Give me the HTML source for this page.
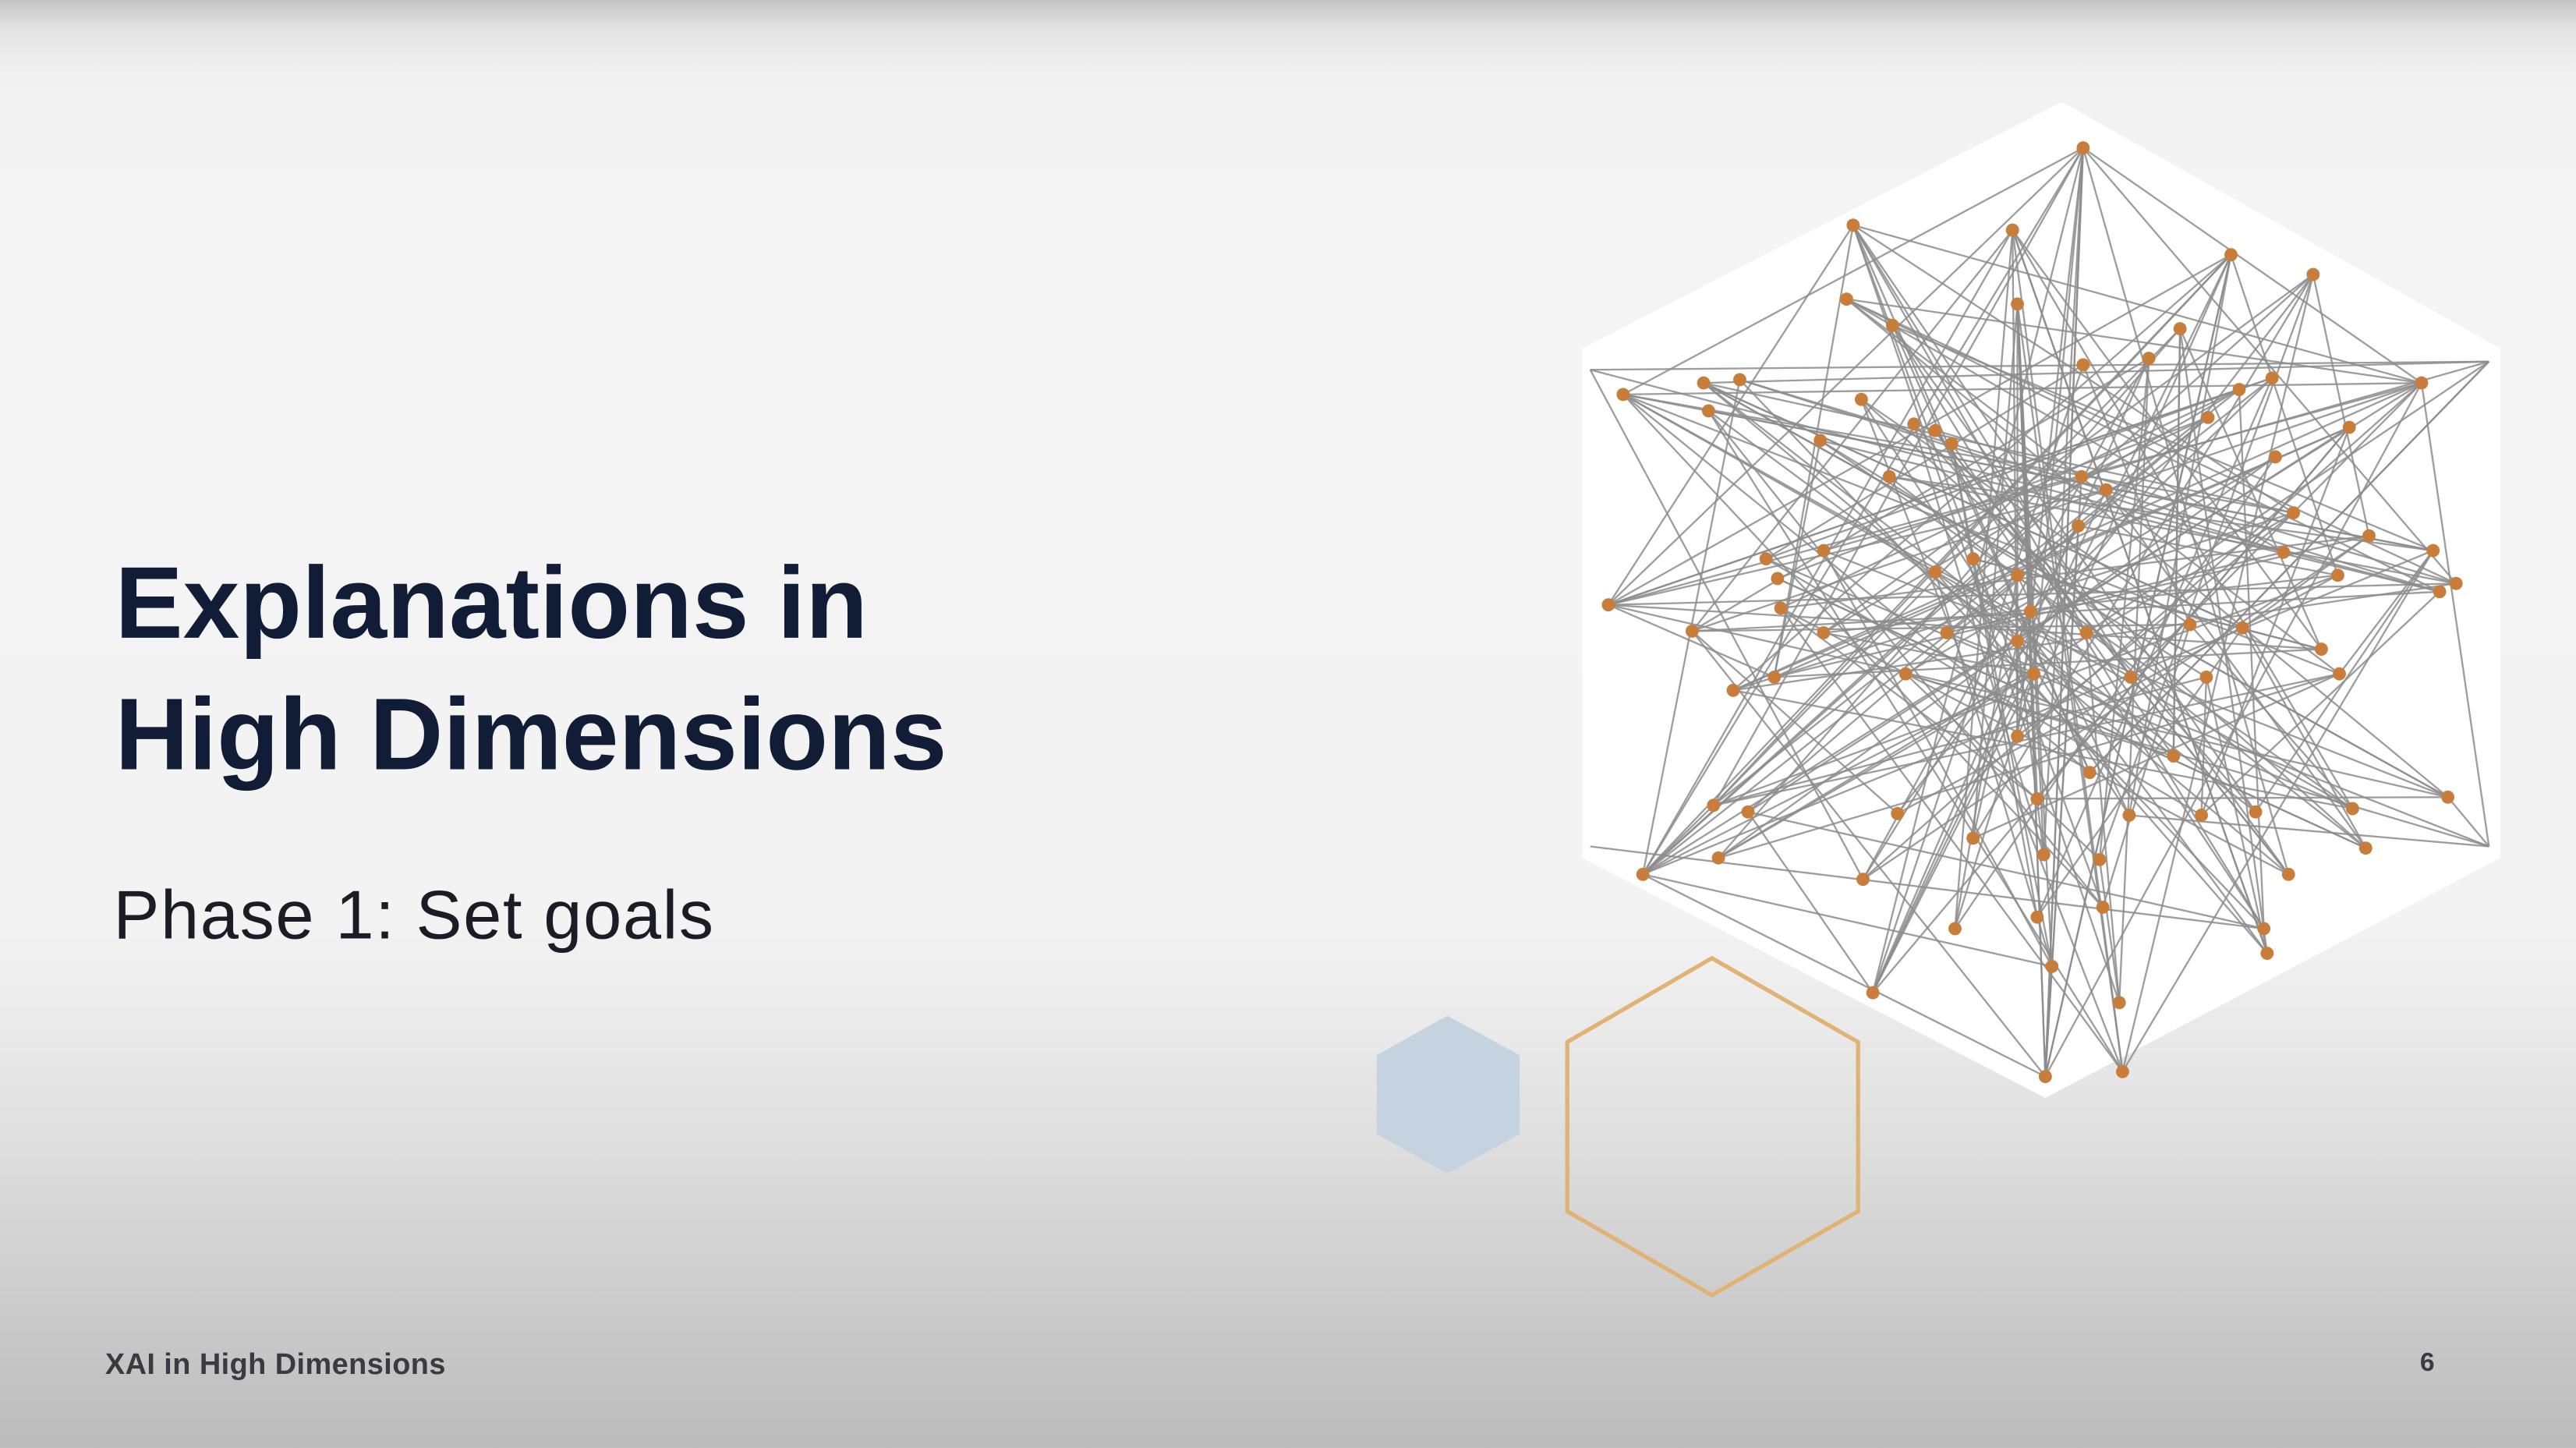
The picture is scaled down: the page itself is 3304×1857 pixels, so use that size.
<!DOCTYPE html>
<html><head><meta charset="utf-8"><style>
html,body{margin:0;padding:0;width:3304px;height:1857px;overflow:hidden;background:#efeeee}
#stage{position:absolute;left:0;top:0;width:1568px;height:881px;transform:scale(2.10714,2.1078);transform-origin:0 0;
background:linear-gradient(180deg,#c4c4c4 0px,#e4e4e4 18px,#f1f1f1 45px,#f5f4f4 120px,#f4f3f3 560px,#e4e3e3 670px,#cfcecf 780px,#bcbbbc 881px)}
.t{position:absolute;font-family:"Liberation Sans",sans-serif;white-space:nowrap}
</style></head><body>
<div id="stage">
<div class="t" style="left:70px;top:328px;font-size:62px;font-weight:bold;color:#111d36;line-height:80px">Explanations in<br>High Dimensions</div>
<div class="t" style="left:69px;top:532px;font-size:42px;letter-spacing:0.75px;color:#1c1c26;line-height:50px">Phase 1: Set goals</div>
<div class="t" style="left:64px;top:820px;font-size:18px;font-weight:bold;color:#3a3a40;letter-spacing:0.2px">XAI in High Dimensions</div>
<div class="t" style="left:1473px;top:821px;font-size:16px;font-weight:bold;color:#3a3a40">6</div>
<svg id="net" width="1568" height="881" style="position:absolute;left:0;top:0">
<polygon points="881,618 925,642 925,690 881,714 838,690 838,642" fill="#c5d3e1"/>
<polygon points="1042,583 1131,634 1131,737 1042,788 954,737 954,634" fill="none" stroke="#e0b274" stroke-width="2.5"/>
<polygon points="1255,62 1522,212 1522,522 1245,668 963,522 963,212" fill="#ffffff"/>
<g id="edges"></g><g id="nodes"></g>
</svg>
</div>
<script>
const nodeX=[1268,1128,1225,1358,1408,1228,1124,1152,1327,1308,1268,988,1037,1059,1363,1383,1474,1133,1165,1178,1188,1108,1040,1344,1430,1267,1282,1385,1150,1265,1396,1442,1481,1075,1110,1082,1178,1201,1228,1236,1390,1423,1495,979,1030,1084,1110,1185,1228,1270,1333,1365,1413,1485,1055,1080,1160,1238,1297,1343,1424,1228,1323,1272,1043,1064,1155,1240,1296,1340,1373,1432,1490,1000,1046,1134,1201,1244,1278,1393,1440,1190,1240,1280,1378,1140,1249,1290,1245,1292,1380,1515,1515,968,968];
const nodeY=[90,137,140,155,167,185,182,198,200,218,222,240,233,231,237,230,233,243,258,262,270,268,250,254,260,290,298,278,290,320,312,326,335,340,335,352,348,340,350,372,336,350,355,368,384,370,385,385,390,385,380,382,395,360,420,412,410,410,412,412,410,448,460,470,490,494,495,486,496,496,494,492,485,532,522,535,510,520,523,532,516,565,558,552,565,604,588,610,655,652,580,220,515,225,515];
const edgeA=[0,0,0,0,0,0,0,0,0,1,1,1,1,1,2,2,2,2,2,3,3,3,3,3,4,4,4,4,5,5,5,5,5,5,6,6,6,7,7,8,8,8,9,9,10,10,11,11,11,11,12,12,12,13,13,14,14,15,15,16,16,16,16,17,17,18,19,20,21,22,23,24,24,25,26,27,28,29,30,31,32,32,33,34,35,36,37,38,39,40,41,42,43,43,43,43,44,45,46,47,48,49,50,51,52,53,54,55,56,57,58,59,60,61,62,63,64,65,66,67,68,69,70,71,72,72,73,73,73,74,75,76,77,78,79,80,81,82,83,84,85,86,87,88,88,89,89,90,91,91,92,92,93,94,5,2,10,25,29,57,61,63,3,4,1,6,
11,12,13,22,33,35,44,45,54,55,64,65,74,73,85,81,86,88,89,87,90,84,79,80,71,72,53,42,32,31,41,60,52,16,24,27,30,15,14,23,9,8,3,4,0,2,5,1,6,7,17,21,18,19,20,28,34,36,37,38,47,46,56,48,57,49,39,58,59,50,51,62,63,61,66,67,68,69,70,75,76,77,78,82,83];
const edgeB=[11,43,73,85,88,16,42,64,79,43,16,63,55,87,73,81,44,52,71,43,85,64,54,88,73,46,66,89,61,88,39,77,67,86,72,42,60,32,79,64,90,74,75,44,85,33,16,60,30,32,72,51,79,53,84,45,64,73,43,44,73,88,54,80,89,77,84,62,53,83,65,55,85,88,43,74,80,41,12,75,73,22,71,91,80,62,52,68,48,47,64,54,55,42,16,72,88,89,57,92,76,91,17,31,43,44,24,21,92,73,1,90,32,0,8,91,73,85,41,24,3,53,1,11,12,72,88,13,86,30,93,4,0,87,45,51,57,15,11,14,26,20,9,3,0,22,32,2,93,12,72,16,53,84,89,90,50,23,88,85,3,91,73,78,30,16,
58,70,40,62,69,80,50,67,71,31,59,84,60,25,9,27,36,5,2,49,37,7,19,26,21,34,6,18,28,45,46,64,55,75,65,56,54,43,33,35,78,52,41,31,57,61,76,83,40,63,68,59,70,79,82,42,86,90,52,81,23,14,62,29,74,1,15,16,69,71,12,8,11,30,44,72,92,24,32,39,60,48,56,51,50];
const eg=document.getElementById('edges');
for(let i=0;i<edgeA.length;i++){
 const a=edgeA[i],b=edgeB[i];
 const l=document.createElementNS('http://www.w3.org/2000/svg','line');
 
 
 l.setAttribute('x1',nodeX[a]);l.setAttribute('y1',nodeY[a]);
 l.setAttribute('x2',nodeX[b]);l.setAttribute('y2',nodeY[b]);
 l.setAttribute('stroke','#8c8c8c');l.setAttribute('stroke-width','1.1');l.setAttribute('stroke-opacity','0.85');
 eg.appendChild(l);
}
const ng=document.getElementById('nodes');
for(let i=0;i<91;i++){
 const c=document.createElementNS('http://www.w3.org/2000/svg','circle');
 
 
 c.setAttribute('cx',nodeX[i]);c.setAttribute('cy',nodeY[i]);c.setAttribute('r','4');
 c.setAttribute('fill','#c97d3a');
 ng.appendChild(c);
}
</script>
</body></html>
